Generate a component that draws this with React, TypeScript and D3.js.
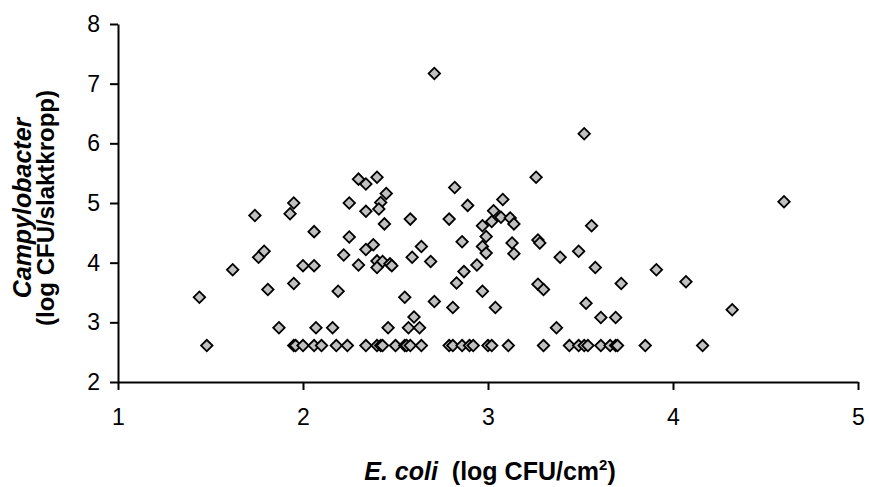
import React, { useRef, useEffect } from 'react';
import * as d3 from 'd3';

// E. coli (log CFU/cm2) vs Campylobacter (log CFU/slaktkropp)
const ecoli = [
  2.71, 3.52, 4.60,
  1.95, 1.93, 1.74, 2.06, 1.79, 1.76, 1.62, 2.00, 2.06, 1.95, 1.81, 1.44,
  2.30, 2.34, 2.40, 2.45, 2.42, 2.25, 2.34, 2.41, 2.44, 2.58, 2.82, 2.89, 2.79, 3.03, 2.97,
  2.25, 2.38, 2.34, 2.22, 2.64, 2.59, 2.69, 2.30, 2.40, 2.43, 2.47, 2.40, 2.48,
  2.86, 2.99, 2.97, 2.99, 2.94, 2.87, 2.83, 2.97, 2.19, 2.55, 2.71, 2.81, 3.04, 2.60,
  3.26, 3.08, 3.07, 3.12, 3.14, 3.02, 3.13, 3.14, 3.27, 3.28, 3.56, 3.49, 3.39, 3.58,
  3.91, 3.72, 3.27, 3.30, 3.53, 3.61, 3.69, 4.07, 4.32,
  // 2.9 row
  1.87, 2.07, 2.16, 2.46, 2.57, 2.63, 3.37,
  // 2.6 row (detection limit)
  1.48, 1.95, 1.96, 2.00, 2.06, 2.10, 2.18, 2.24, 2.34, 2.40, 2.42, 2.43, 2.50, 2.55, 2.56, 2.58,
  2.64, 2.79, 2.81, 2.86, 2.90, 2.92, 3.00, 3.02, 3.11, 3.30, 3.44, 3.49, 3.52, 3.54, 3.61, 3.66,
  3.69, 3.70, 3.85, 4.16,
];
const campy = [
  7.17, 6.16, 5.02,
  5.00, 4.82, 4.79, 4.52, 4.19, 4.09, 3.88, 3.95, 3.95, 3.65, 3.55, 3.42,
  5.40, 5.32, 5.43, 5.16, 5.01, 5.00, 4.86, 4.90, 4.65, 4.73, 5.26, 4.96, 4.73, 4.87, 4.62,
  4.43, 4.30, 4.22, 4.13, 4.27, 4.09, 4.02, 3.96, 4.03, 4.02, 3.98, 3.92, 3.95,
  4.35, 4.44, 4.27, 4.16, 3.96, 3.85, 3.66, 3.52, 3.52, 3.42, 3.35, 3.25, 3.25, 3.09,
  5.43, 5.06, 4.76, 4.75, 4.65, 4.69, 4.33, 4.15, 4.38, 4.33, 4.62, 4.19, 4.09, 3.92,
  3.88, 3.65, 3.64, 3.55, 3.32, 3.08, 3.08, 3.68, 3.21,
  2.91, 2.91, 2.91, 2.91, 2.91, 2.91, 2.91,
  2.61, 2.61, 2.61, 2.61, 2.61, 2.61, 2.61, 2.61, 2.61, 2.61, 2.61, 2.61, 2.61, 2.61, 2.61, 2.61,
  2.61, 2.61, 2.61, 2.61, 2.61, 2.61, 2.61, 2.61, 2.61, 2.61, 2.61, 2.61, 2.61, 2.61, 2.61, 2.61,
  2.61, 2.61, 2.61, 2.61,
];
const xTicks = [1, 2, 3, 4, 5];
const yTicks = [2, 3, 4, 5, 6, 7, 8];

const W = 869, H = 487;
const FONT = '"Liberation Sans", Arial, sans-serif';

export default function App() {
  const ref = useRef<SVGSVGElement>(null);

  useEffect(() => {
    const svg = d3.select(ref.current);
    svg.selectAll('*').remove();

    const x = d3.scaleLinear().domain([1, 5]).range([118, 858]);
    const y = d3.scaleLinear().domain([2, 8]).range([382, 24]);

    // y axis
    const yAxis = svg.append('g')
      .attr('transform', 'translate(' + x(1) + ',0)')
      .call(d3.axisLeft(y).tickValues(yTicks).tickSize(8).tickSizeOuter(0).tickPadding(10).tickFormat(d3.format('d')));
    // x axis
    const xAxis = svg.append('g')
      .attr('transform', 'translate(0,' + y(2) + ')')
      .call(d3.axisBottom(x).tickValues(xTicks).tickSize(8).tickSizeOuter(0).tickPadding(19).tickFormat(d3.format('d')));

    [xAxis, yAxis].forEach((a) => {
      a.select('.domain').attr('stroke', '#000').attr('stroke-width', 2);
      a.selectAll('.tick line').attr('stroke', '#000').attr('stroke-width', 2);
      a.selectAll('.tick text')
        .attr('fill', '#000')
        .style('font-family', FONT)
        .style('font-size', '23px');
    });

    // points
    const diamond = d3.symbol().type(d3.symbolSquare).size(66);
    svg.append('g')
      .selectAll('path')
      .data(ecoli.map((e, i) => [e, campy[i]]))
      .enter()
      .append('path')
      .attr('d', diamond)
      .attr('transform', (d) => 'translate(' + x(d[0]) + ',' + y(d[1]) + ') rotate(45)')
      .attr('fill', '#c0c0c0')
      .attr('stroke', '#000')
      .attr('stroke-width', 1.8);

    // x title
    const xt = svg.append('text')
      .attr('x', 490)
      .attr('y', 480)
      .attr('text-anchor', 'middle')
      .style('font-family', FONT)
      .style('font-size', '25px')
      .style('font-weight', 'bold');
    xt.append('tspan').style('font-style', 'italic').text('E. coli');
    xt.append('tspan').text('\u00a0 (log CFU/cm');
    xt.append('tspan').attr('dy', -10).style('font-size', '15px').text('2');
    xt.append('tspan').attr('dy', 10).text(')');

    // y title, two lines
    const ymid = 208;
    svg.append('text')
      .attr('transform', 'translate(31,' + ymid + ') rotate(-90)')
      .attr('text-anchor', 'middle')
      .style('font-family', FONT)
      .style('font-size', '25px')
      .style('font-weight', 'bold')
      .style('font-style', 'italic')
      .text('Campylobacter');
    svg.append('text')
      .attr('transform', 'translate(54,' + ymid + ') rotate(-90)')
      .attr('text-anchor', 'middle')
      .style('font-family', FONT)
      .style('font-size', '24px')
      .style('font-weight', 'bold')
      .text('(log CFU/slaktkropp)');
  }, []);

  return (
    <div style={{ position: 'absolute', left: 0, top: 0, background: '#fff' }}>
      <svg ref={ref} width={W} height={H} style={{ display: 'block' }} />
    </div>
  );
}
